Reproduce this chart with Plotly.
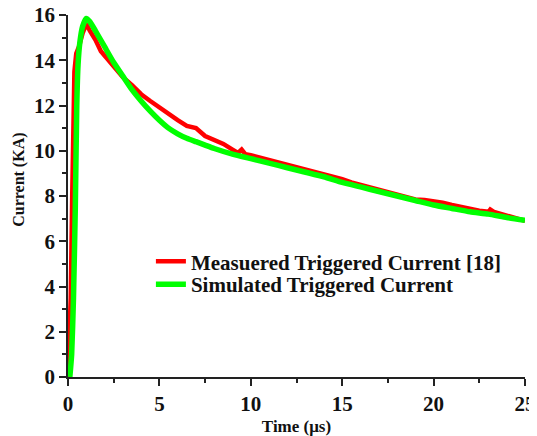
import plotly.graph_objects as go

# Measured triggered current [18]
t_meas = [0, 0.05, 0.15, 0.23, 0.3, 0.35, 0.45, 0.6, 0.8, 1.0, 1.2, 1.5, 1.8, 2.0, 2.3, 2.6,
          3.0, 3.5, 4.0, 4.5, 5.0, 5.5, 6.0, 6.5, 7.0, 7.5, 8.0, 8.5, 9.0, 9.3, 9.5, 9.7,
          10.0, 10.5, 11.0, 11.5, 12.0, 12.5, 13.0, 13.5, 14.0, 14.5, 15.0, 15.5, 16.0,
          16.5, 17.0, 17.5, 18.0, 18.5, 19.0, 19.5, 20.0, 20.5, 21.0, 21.5, 22.0, 22.5,
          23.0, 23.1, 23.3, 23.5, 24.0, 24.5, 25.0]
i_meas = [0, 1.0, 3.5, 8.0, 11.5, 13.5, 14.3, 14.6, 15.2, 15.6, 15.3, 14.9, 14.4, 14.2, 13.9, 13.6,
          13.25, 12.9, 12.5, 12.2, 11.9, 11.65, 11.35, 11.1, 11.0, 10.65, 10.5, 10.3, 10.05, 9.9, 10.05, 9.85,
          9.8, 9.7, 9.6, 9.45, 9.35, 9.3, 9.2, 9.05, 8.95, 8.85, 8.75, 8.6, 8.5,
          8.4, 8.3, 8.2, 8.1, 7.95, 7.85, 7.82, 7.78, 7.7, 7.6, 7.5, 7.45, 7.35,
          7.3, 7.4, 7.3, 7.25, 7.15, 7.0, 6.9]

# Simulated triggered current
t_sim = [0.1, 0.2, 0.3, 0.4, 0.48, 0.55, 0.65, 0.8, 1.0, 1.2, 1.5, 2.0, 2.5, 3.0, 3.5, 4.0,
         4.5, 5.0, 5.5, 6.0, 6.5, 7.0, 7.5, 8.0, 9.0, 10.0, 11.0, 12.0, 13.0, 14.0, 15.0,
         16.0, 17.0, 18.0, 19.0, 20.0, 21.0, 22.0, 23.0, 24.0, 25.0]
i_sim = [0, 1.0, 3.5, 7.5, 12.0, 13.8, 14.8, 15.5, 15.85, 15.7, 15.3, 14.6, 13.9, 13.3, 12.7, 12.2,
         11.75, 11.35, 11.0, 10.75, 10.55, 10.4, 10.25, 10.1, 9.85, 9.65, 9.45, 9.25, 9.05, 8.85, 8.6,
         8.4, 8.2, 8.0, 7.8, 7.6, 7.45, 7.3, 7.2, 7.05, 6.93]

x_ticks = [0, 5, 10, 15, 20, 25]
y_ticks = [0, 2, 4, 6, 8, 10, 12, 14, 16]

serif = "Liberation Serif"
bold = lambda s: "<b>" + str(s) + "</b>"

# page body adds an 8px offset; figure coordinates below are page pixels minus 8
OFF = 8
W, H = 537 - OFF, 436 - OFF
L, T = 68 - OFF, 15 - OFF
R = W - (525.5 - OFF)
B = H - (377.5 - OFF)
pw, ph = W - L - R, H - T - B

def px_x(page_x):
    return (page_x - OFF - L) / pw

def px_y(page_y):
    return (H - B - (page_y - OFF)) / ph

fig = go.Figure()
fig.add_trace(go.Scatter(x=t_meas, y=i_meas, mode="lines", name=bold("Measuered Triggered Current [18]"),
                         line=dict(color="#ff0000", width=4.5), legend="legend"))
fig.add_trace(go.Scatter(x=t_sim, y=i_sim, mode="lines", name=bold("Simulated Triggered Current"),
                         line=dict(color="#00ff00", width=5.5, shape="spline", smoothing=0.5),
                         legend="legend2"))

axis_common = dict(showline=True, linecolor="#222", linewidth=1.5, ticks="outside", ticklen=7,
                   tickwidth=1.5, tickcolor="#222", showgrid=False, zeroline=False, automargin=False,
                   ticklabeloverflow="allow",
                   tickfont=dict(family=serif, size=21, color="#111"))

leg_common = dict(xanchor="left", yanchor="middle", bgcolor="rgba(0,0,0,0)",
                  font=dict(family=serif, size=21, color="#111"))

fig.update_layout(
    width=W, height=H,
    margin=dict(l=L, r=R, t=T, b=B),
    paper_bgcolor="white", plot_bgcolor="white",
    xaxis=dict(range=[0, 25], tickvals=x_ticks, ticktext=[bold(v) for v in x_ticks],
               minor=dict(ticks="outside", ticklen=4, tickwidth=1.5, tickcolor="#222", dtick=2.5),
               title=dict(text=bold("Time (μs)"), font=dict(family=serif, size=17, color="#111"),
                          standoff=5),
               **axis_common),
    yaxis=dict(range=[0, 16], tickvals=y_ticks, ticktext=[bold(v) for v in y_ticks],
               minor=dict(ticks="outside", ticklen=4, tickwidth=1.5, tickcolor="#222", dtick=1),
               **axis_common),
    legend=dict(x=px_x(151), y=px_y(262), **leg_common),
    legend2=dict(x=px_x(151), y=px_y(285), **leg_common),
    showlegend=True,
    annotations=[dict(text=bold("Current (KA)"), textangle=-90, xref="paper", yref="paper",
                      x=px_x(19), y=px_y(180), xanchor="center", yanchor="middle",
                      showarrow=False, font=dict(family=serif, size=16, color="#111"))],
)

fig.write_html("out.html")
